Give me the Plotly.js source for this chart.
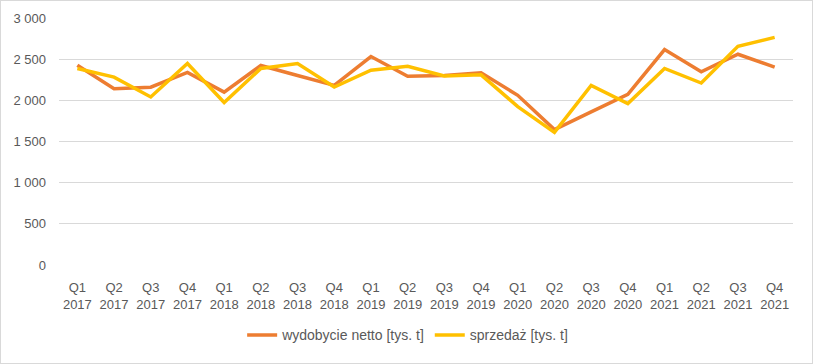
<!DOCTYPE html>
<html>
<head>
<meta charset="utf-8">
<script src="https://cdn.plot.ly/plotly-3.0.1.min.js"></script>
<style>
html,body{margin:0;padding:0;background:#fff;}
#chart{width:813px;height:364px;box-sizing:border-box;border:1px solid #d9d9d9;}
</style>
</head>
<body>
<div id="chart"></div>
<script>
const quarters = ["Q1","Q2","Q3","Q4","Q1","Q2","Q3","Q4","Q1","Q2","Q3","Q4","Q1","Q2","Q3","Q4","Q1","Q2","Q3","Q4"];
const years = ["2017","2017","2017","2017","2018","2018","2018","2018","2019","2019","2019","2019","2020","2020","2020","2020","2021","2021","2021","2021"];
const categories = quarters.map((q, i) => q + "<br>" + years[i]);
const wydobycie = [2425, 2140, 2160, 2340, 2100, 2423, 2302, 2182, 2532, 2292, 2302, 2334, 2061, 1645, 1860, 2073, 2616, 2347, 2560, 2403];
const sprzedaz = [2387, 2282, 2041, 2447, 1973, 2387, 2447, 2162, 2366, 2413, 2295, 2310, 1924, 1610, 2182, 1961, 2387, 2210, 2656, 2765];
const seriesNames = ["wydobycie netto [tys. t]", "sprzedaż [tys. t]"];

const font = {family: "Liberation Sans, Arial, sans-serif", size: 13, color: "#595959"};
const legendFont = {family: "Liberation Sans, Arial, sans-serif", size: 14, color: "#595959"};

const traces = [
  {x: categories, y: wydobycie, name: seriesNames[0], type: "scatter", mode: "lines",
   line: {color: "#ED7D31", width: 3.5}},
  {x: categories, y: sprzedaz, name: seriesNames[1], type: "scatter", mode: "lines",
   line: {color: "#FFC000", width: 3.5}}
];

const layout = {
  width: 811, height: 362,
  margin: {l: 58, r: 19, t: 17, b: 96},
  paper_bgcolor: "#fff", plot_bgcolor: "#fff",
  separators: ", ",
  font: font,
  showlegend: true,
  legend: {orientation: "h", x: 0.475, xanchor: "center",
           y: -0.285, yanchor: "middle", font: legendFont, tracegroupgap: 0},
  xaxis: {type: "category", range: [-0.5, 19.5], showgrid: false, zeroline: false,
          showline: false, ticks: "", tickfont: font, tickangle: 0, ticklabelstandoff: 13,
          automargin: false, fixedrange: true},
  yaxis: {range: [0, 3000], dtick: 500, tickformat: ",d", showgrid: true,
          gridcolor: "#d9d9d9", gridwidth: 1, zeroline: false, showline: false,
          ticks: "", tickfont: font, ticklabelstandoff: 12, automargin: false, fixedrange: true}
};

Plotly.newPlot("chart", traces, layout, {displayModeBar: false, staticPlot: true});
</script>
</body>
</html>
